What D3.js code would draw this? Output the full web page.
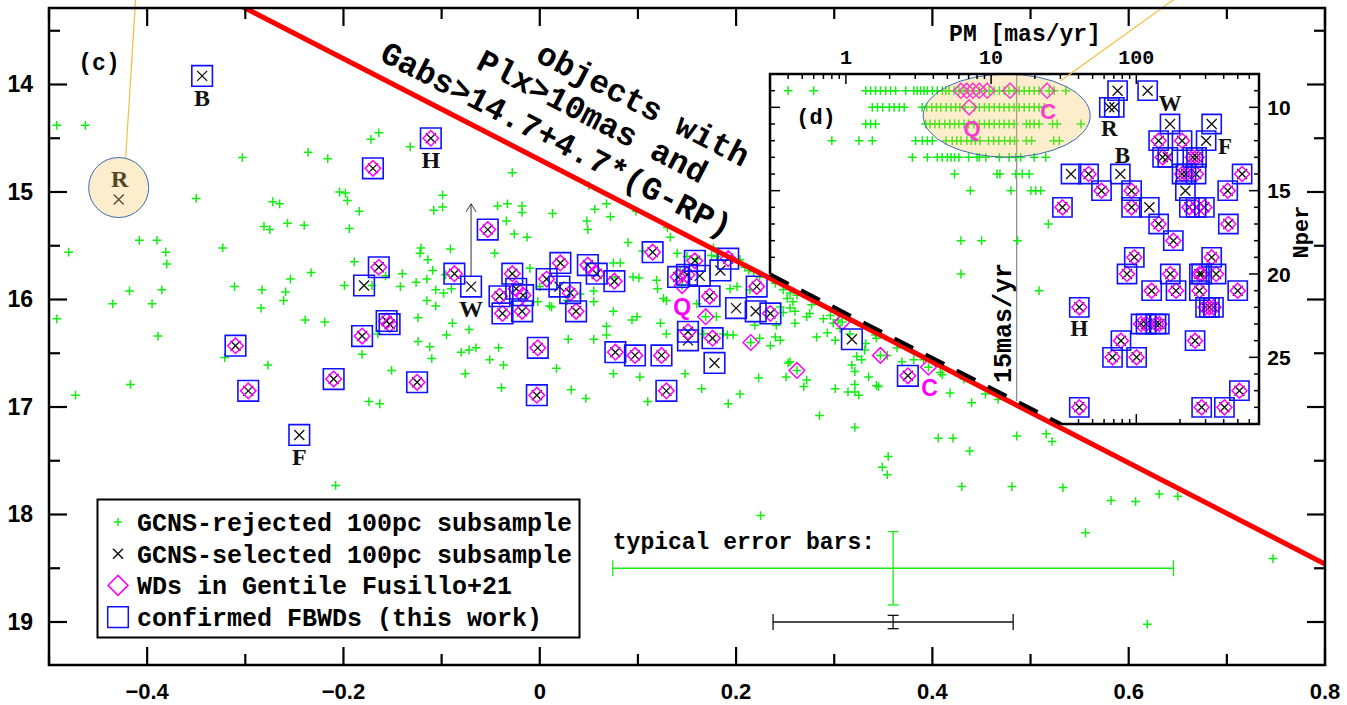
<!DOCTYPE html>
<html>
<head>
<meta charset="utf-8">
<script src="https://cdn.jsdelivr.net/npm/d3@7"></script>
<style>
html, body { margin: 0; padding: 0; background: #fff; }
svg { display: block; }
</style>
</head>
<body>
<svg id="chart" width="1347" height="705"></svg>
<script>
// ---- panel (c): G-RP vs Gabs ----
// GCNS-rejected 100pc subsample (green +)
var rejectedMain = [
  [-0.492,14.38],[-0.463,14.38],[-0.303,14.68],[-0.350,15.06],[-0.236,14.63],[-0.216,14.69],[-0.172,14.51],
  [-0.164,14.45],[-0.132,14.58],[-0.272,15.09],[-0.265,15.11],[-0.257,15.29],[-0.281,15.32],[-0.275,15.35],
  [-0.240,15.31],[-0.204,15.00],[-0.198,15.01],[-0.196,15.08],[-0.184,15.18],[-0.194,15.34],[-0.099,15.03],
  [-0.099,15.14],[-0.108,15.17],[-0.480,15.56],[-0.408,15.45],[-0.390,15.45],[-0.381,15.56],[-0.380,15.67],
  [-0.323,15.52],[-0.418,15.92],[-0.385,15.91],[-0.435,16.04],[-0.395,16.04],[-0.492,16.18],[-0.389,16.34],
  [-0.311,15.88],[-0.283,15.91],[-0.284,16.08],[-0.259,15.93],[-0.261,16.01],[-0.254,15.81],[-0.233,15.75],
  [-0.239,16.19],[-0.219,16.21],[-0.189,15.65],[-0.199,15.87],[-0.171,15.87],[-0.157,15.78],[-0.140,15.76],
  [-0.142,15.88],[-0.126,15.84],[-0.115,15.81],[-0.106,15.91],[-0.098,15.94],[-0.121,15.52],[-0.122,15.57],
  [-0.114,15.63],[-0.124,16.17],[-0.115,16.01],[-0.106,16.06],[-0.124,16.39],[-0.112,16.44],[-0.165,16.32],
  [-0.095,16.33],[-0.473,16.89],[-0.417,16.79],[-0.321,16.54],[-0.277,16.61],[-0.181,16.51],[-0.151,16.66],
  [-0.174,16.95],[-0.163,16.97],[-0.110,16.55],[-0.208,17.73],[-0.091,15.53],
  [-0.028,14.82],[-0.043,15.13],[-0.033,15.11],[-0.018,15.13],[-0.018,15.19],[-0.034,15.27],[0.013,15.20],
  [-0.026,15.39],[-0.013,15.42],[0.050,14.94],[0.056,15.16],[0.068,15.11],[0.048,15.27],[0.049,15.35],
  [0.072,15.23],[0.098,15.18],[0.090,15.47],[0.105,15.55],[0.130,15.33],[0.133,15.42],[-0.046,15.57],
  [-0.090,15.90],[-0.089,16.22],[-0.072,16.28],[-0.080,16.49],[-0.072,16.47],[-0.065,16.45],[-0.042,16.45],
  [-0.051,16.56],[-0.037,16.61],[-0.076,16.69],[-0.039,16.82],[0.017,16.64],[0.032,16.84],[0.047,16.92],
  [-0.010,15.71],[-0.002,16.02],[0.010,16.06],[0.029,16.37],[0.055,16.37],[0.055,16.02],[0.075,16.11],
  [0.094,16.19],[0.075,15.66],[0.082,15.66],[0.095,15.79],[0.101,15.80],[0.119,15.82],[0.126,15.99],
  [0.129,16.01],[0.123,16.22],[0.129,16.32],[0.075,16.69],[0.102,16.72],[0.110,16.95],[0.148,16.69],
  [0.165,16.83],[0.192,16.97],[0.204,16.88],[0.223,16.73],[0.245,16.38],[0.253,16.59],[0.251,16.72],
  [0.197,16.33],[0.143,15.73],[0.140,15.57],[0.177,15.52],[0.175,15.59],[0.150,15.60],[0.160,15.62],
  [0.180,15.60],[0.204,15.63],[0.209,15.70],[0.213,15.73],[0.218,15.74],[-0.109,15.73],[-0.096,15.77],
  [0.000,15.88],[0.012,16.07],[0.028,16.01],[0.041,15.95],[0.055,15.92],[0.077,15.79],[0.120,15.90],
  [0.099,16.16],[0.068,16.25],[0.068,16.33],[0.187,16.32],[0.191,16.33],[0.167,16.32],[0.160,16.04],
  [0.180,16.16],[0.194,15.90],[0.201,15.88],[0.214,15.91],[0.240,16.35],[0.241,16.24],[0.224,16.36],
  [0.235,16.43],
  [0.224,15.79],[0.240,15.85],[0.248,15.91],[0.255,15.94],[0.262,15.96],[0.252,15.99],[0.258,16.02],
  [0.245,16.07],[0.255,16.08],[0.260,16.11],[0.277,16.05],[0.275,16.13],[0.272,16.16],[0.289,16.18],
  [0.296,16.15],[0.299,16.22],[0.304,16.19],[0.306,16.27],[0.260,16.22],[0.248,16.12],[0.219,16.24],
  [0.282,16.35],[0.293,16.31],[0.316,16.32],[0.332,16.41],[0.331,16.47],[0.323,16.53],[0.328,16.56],
  [0.342,16.33],[0.343,16.36],[0.354,16.52],[0.364,16.45],[0.369,16.58],[0.381,16.56],[0.391,16.56],
  [0.408,16.68],[0.410,16.70],[0.432,16.74],[0.418,16.87],[0.440,16.96],[0.454,16.88],[0.467,16.93],
  [0.269,16.81],[0.272,16.75],[0.301,16.83],[0.314,16.86],[0.321,16.86],[0.325,16.89],[0.321,16.67],
  [0.321,16.79],[0.335,16.72],[0.343,16.80],[0.285,17.08],[0.321,17.19],[0.406,17.29],[0.421,17.29],
  [0.438,17.41],[0.486,17.27],[0.516,17.25],[0.522,17.32],[0.355,17.46],[0.349,17.56],[0.354,17.63],
  [0.430,17.74],[0.481,17.74],[0.533,17.75],[0.225,18.01],[0.556,18.17],[0.582,17.87],[0.607,17.88],
  [0.631,17.81],[0.650,17.83],[0.747,18.41],[0.619,19.02],[0.345,16.81],[0.318,16.61],[0.301,16.38],
  [0.255,16.58]
];

// confirmed FBWDs in panel (c): [G-RP, Gabs, in Gentile Fusillo+21 (1/0)]
var fbwdMain = [
  [-0.344,13.92,0],[-0.111,14.50,1],[-0.170,14.78,1],[-0.164,15.70,1],[-0.179,15.87,0],[-0.156,16.20,1],
  [-0.153,16.23,1],[-0.181,16.34,1],[-0.310,16.43,1],[-0.297,16.85,1],[-0.245,17.26,0],[-0.210,16.74,1],
  [-0.125,16.77,1],[-0.087,15.76,1],[-0.070,15.88,0],[-0.053,15.35,1],[-0.028,15.76,1],[-0.041,15.97,1],
  [-0.024,15.90,1],[-0.017,15.96,1],[-0.038,16.13,1],[-0.018,16.11,1],[-0.002,16.45,1],[-0.003,16.89,1],
  [0.021,15.66,1],[0.007,15.81,1],[0.020,15.88,0],[0.031,15.94,1],[0.037,16.11,1],[0.049,15.68,1],
  [0.058,15.76,1],[0.076,15.83,1],[0.115,15.56,1],[0.077,16.49,1],[0.097,16.52,1],[0.124,16.52,1],
  [0.129,16.85,1],[0.141,15.79,1],[0.158,15.64,1],[0.150,15.77,1],[0.163,15.78,0],[0.173,15.97,1],
  [0.184,15.73,0],[0.192,15.62,1],[0.151,16.30,1],[0.151,16.38,0],[0.176,16.36,1],[0.178,16.59,0],
  [0.200,16.08,0],[0.220,16.11,0],[0.235,16.13,1],[0.221,15.88,1],[0.318,16.37,0],[0.375,16.71,1]
];
// GCNS-selected, not confirmed (R)
var selectedOnlyMain = [[-0.429,15.07]];
// WDs in GF21 that were GCNS-rejected
var wdOnlyMain = [[0.145,15.87],[0.169,16.16],[0.215,16.40],[0.262,16.66],[0.308,16.21],[0.347,16.52],[0.396,16.63]];

// named objects: [name, G-RP, Gabs, label dx, label dy]
var mainLabels = [
  ["B",-0.344,13.92,0,22],["H",-0.111,14.50,0,22],["F",-0.245,17.26,0,22],["W",-0.070,15.88,0,22],
  ["R",-0.429,15.07,1,-21]
];
var mainMagLabels = [["Q",0.145,15.87,0,21],["C",0.396,16.63,1,21]];

// typical error bars: [G-RP, Gabs, err G-RP, err Gabs]
var errGreen = [0.360, 18.50, 0.2856, 0.341];
var errBlack = [0.360, 19.00, 0.1223, 0.062];

// ---- panel (d): PM vs Nper ----
var rejectedInset = [
  [9,[0.40,0.60,1.37,1.48,1.60,1.73,1.88,2.03,2.20,2.58,2.94,3.10,3.27,3.45,3.64,3.94,4.26,4.61,4.87,5.13,5.56,6.0,6.5,7.0,7.6,8.3,9.0,9.7,10.5,11.4,12.3,13.3,14.4,15.6,16.9,18.3,19.8,21.4,25.1,27.2,32.7]],
  [10,[1.52,1.65,1.79,1.99,2.15,2.33,2.52,3.35,3.6,3.9,4.2,4.5,4.9,5.3,5.7,6.1,6.6,7.7,8.3,9.0,9.7,10.5,11.4,12.3,13.3,14.4,15.6,16.9,18.3,19.8,21.4,23.2]],
  [11,[1.37,1.48,1.60,3.54,3.8,4.1,4.4,4.8,5.2,5.6,6.0,6.5,7.0,7.6,8.3,9.0,9.7,10.5,11.4,12.3,13.3,14.4,17.5,18.5,19.8,21.4,26.5,28.5,41.6]],
  [12,[0.80,1.23,1.52,3.02,3.36,3.64,3.94,4.9,5.4,5.8,6.2,6.8,7.3,7.8,8.4,9.6,10.4,11.3,12.4,13.5,14.5,17.5,19.0,27.0,29.5]],
  [13,[2.87,3.64,4.26,4.6,5.0,5.3,5.6,6.0,7.0,8.0,8.3,9.2,11.4,13.3,14.8,16.0,19.8,23.8]],
  [14,[5.6,11.0,11.5,14.8,16.4,18.3]],
  [15,[7.2,13.7,18.8,20.3,22.0]],
  [17,[24.8]],
  [18,[6.2,8.6,15.2]],
  [20,[6.2]],
  [21,[21.4]]
];
// confirmed FBWDs: [PM, Nper, in GF21 (1/0)]
var fbwdInset = [
  [74.3,9,0],[119.7,9,0],[65.2,10,0],[70.5,10,0],[170.7,11,0],[330.5,11,0],[142.5,12,1],[206.6,12,1],
  [302.6,12,0],[151.8,13,1],[165,13,0],[245,13,1],[260,13,1],[35.5,14,0],[46.9,14,1],[77.6,14,0],
  [206.6,14,1],[220.2,14,1],[258.1,14,1],[535.5,14,1],[57.6,15,1],[92.8,15,1],[217.8,15,0],[426.3,15,1],
  [31.0,16,1],[92.8,16,1],[122.9,16,0],[232.1,16,1],[258.1,16,1],[294.4,16,1],[142.5,17,1],[430.7,17,1],
  [179.9,18,1],[96.9,19,1],[330.5,19,1],[86.3,20,1],[171.5,20,1],[271.9,20,1],[282,20,1],[354.5,20,1],
  [127.6,21,1],[187.8,21,1],[271.9,21,1],[499.7,21,1],[40.5,22,1],[300,22,1],[318.7,22,1],[340,22,1],
  [107.8,23,1],[116.7,23,1],[136.7,23,1],[144.1,23,1],[78.4,24,1],[254,24,1],[68.6,25,1],[100.5,25,1],
  [513.2,27,1],[40.5,28,1],[282,28,1],[404.6,28,1]
];
var wdOnlyInset = [[6.2,9],[6.8,9],[7.5,9],[8.3,9],[9.4,9],[13.5,9],[24.3,9],[7.05,10]];
var insetLabels = [
  ["R",65.2,10,0,21],["W",170.7,11,0,-21],["F",302.6,12,19,6],["B",77.6,14,2,-19],["H",40.5,22,0,21]
];
var insetMagLabels = [["Q",7.05,10,3,21],["C",24.3,9,1,21]];

var legendItems = ["GCNS-rejected 100pc subsample", "GCNS-selected 100pc subsample",
                   "WDs in Gentile Fusillo+21", "confirmed FBWDs (this work)"];

// ---------------------------------------------------------------
var MONO = "'Liberation Mono','DejaVu Sans Mono',monospace";
var SANS = "'Liberation Sans',Arial,sans-serif";
var SERIF = "'Liberation Serif','Times New Roman',serif";
var GREEN = "#11ee11", MAG = "#ff00ff", BLUE = "#1010ff", RED = "#ff0000";

var svg = d3.select("#chart");
svg.append("rect").attr("width", 1347).attr("height", 705).attr("fill", "#fff");

var x = d3.scaleLinear().domain([-0.5, 0.8]).range([49, 1325]);
var y = d3.scaleLinear().domain([13.2884, 19.4]).range([8, 665]);
var px = d3.scaleLog().domain([0.3, 700]).range([770, 1259]);
var py = d3.scaleLinear().domain([8, 29]).range([74, 424]);

function cut(c) { return 14.7 + 4.7 * c; }

function mk(type, r) {
  if (type == "plus") return "M" + (-r) + ",0H" + r + "M0," + (-r) + "V" + r;
  if (type == "cross") return "M" + (-r) + "," + (-r) + "L" + r + "," + r + "M" + (-r) + "," + r + "L" + r + "," + (-r);
  if (type == "diamond") return "M0," + (-r) + "L" + r + ",0L0," + r + "L" + (-r) + ",0Z";
  return "M" + (-r) + "," + (-r) + "H" + r + "V" + r + "H" + (-r) + "Z";
}

function marks(g, data, fx, fy, type, r, color, sw) {
  g.append("g").selectAll("path").data(data).join("path")
    .attr("d", mk(type, r))
    .attr("transform", function(d) { return "translate(" + fx(d) + "," + fy(d) + ")"; })
    .attr("fill", "none").attr("stroke", color).attr("stroke-width", sw);
}

var defs = svg.append("defs");
defs.append("clipPath").attr("id", "clipMain").append("rect")
  .attr("x", 49).attr("y", 8).attr("width", 1276).attr("height", 657);

// ---- main panel marks ----
var main = svg.append("g").attr("clip-path", "url(#clipMain)");
var mx = function(d) { return x(d[0]); }, my = function(d) { return y(d[1]); };

marks(main, rejectedMain, mx, my, "plus", 4.4, GREEN, 1.5);
marks(main, wdOnlyMain, mx, my, "plus", 4.4, GREEN, 1.5);
marks(main, fbwdMain.concat(selectedOnlyMain), mx, my, "cross", 5, "#111", 1.3);
marks(main, fbwdMain.filter(function(d) { return d[2]; }).concat(wdOnlyMain), mx, my, "diamond", 7.8, MAG, 1.5);
marks(main, fbwdMain, mx, my, "square", 10.3, BLUE, 1.6);

main.append("path")
  .attr("d", d3.line()([[x(-0.5), y(cut(-0.5))], [x(0.8), y(cut(0.8))]]))
  .attr("stroke", RED).attr("stroke-width", 5).attr("fill", "none");

// ---- inset panel (d) ----
var diag0 = x.invert(770);
var yd0 = y(cut(diag0)) - 4;
var cb = (y.invert(428) - 14.7) / 4.7;
var xb = x(cb);
var poly = [[770, 74], [1259, 74], [1259, 424], [xb, 424], [770, yd0]];
function diagY(pxv) { return y(cut(x.invert(pxv))) - 4; }

defs.append("clipPath").attr("id", "clipInset").append("polygon")
  .attr("points", poly.map(function(p) { return p.join(","); }).join(" "));

svg.append("polygon").attr("points", poly.map(function(p) { return p.join(","); }).join(" "))
  .attr("fill", "#fff");

var inset = svg.append("g").attr("clip-path", "url(#clipInset)");
var ix = function(d) { return px(d[0]); }, iy = function(d) { return py(d[1]); };
var rejFlat = [];
rejectedInset.forEach(function(row) { row[1].forEach(function(v) { rejFlat.push([v, row[0]]); }); });

// 15 mas/yr boundary
inset.append("line").attr("x1", px(15)).attr("x2", px(15)).attr("y1", 74).attr("y2", diagY(px(15)))
  .attr("stroke", "#888").attr("stroke-width", 1.2);

marks(inset, rejFlat, ix, iy, "plus", 4.4, GREEN, 1.5);
marks(inset, fbwdInset, ix, iy, "cross", 5, "#111", 1.3);
marks(inset, fbwdInset.filter(function(d) { return d[2]; }).concat(wdOnlyInset), ix, iy, "diamond", 7.5, MAG, 1.5);
marks(inset, fbwdInset, ix, iy, "square", 9.6, BLUE, 1.6);

insetMagLabels.forEach(function(l) {
  inset.append("text").attr("x", px(l[1]) + l[3]).attr("y", py(l[2]) + l[4])
    .attr("text-anchor", "middle").attr("dominant-baseline", "central")
    .attr("font-family", SANS).attr("font-weight", "bold").attr("font-size", 22)
    .attr("fill", MAG).text(l[0]);
});

// highlight ellipse
inset.append("ellipse").attr("cx", px(12.8)).attr("cy", py(10.5)).attr("rx", 83.5).attr("ry", 41.5)
  .attr("fill", "#f6c356").attr("fill-opacity", 0.3).attr("stroke", "#3b6cae").attr("stroke-width", 1);

insetLabels.forEach(function(l) {
  inset.append("text").attr("x", px(l[1]) + l[3]).attr("y", py(l[2]) + l[4])
    .attr("text-anchor", "middle").attr("dominant-baseline", "central")
    .attr("font-family", SERIF).attr("font-weight", "bold").attr("font-size", 23)
    .attr("fill", "#111").text(l[0]);
});

// inset frame
var fr = svg.append("g").attr("stroke", "#000").attr("fill", "none");
fr.append("path").attr("d", "M770," + yd0 + "V74H1259V424H" + xb).attr("stroke-width", 2.5);
fr.append("line").attr("x1", 770).attr("y1", yd0).attr("x2", xb).attr("y2", 424)
  .attr("stroke-width", 3.8).attr("stroke-dasharray", "21,14");

var pmTicks = [];
[0.1, 1, 10, 100].forEach(function(dec) {
  d3.range(1, 10).forEach(function(k) {
    var v = k * dec;
    if (v >= 0.3 && v <= 700) pmTicks.push([v, k == 1]);
  });
});
pmTicks.forEach(function(t) {
  var len = t[1] ? 10 : 5, xv = px(t[0]);
  fr.append("line").attr("x1", xv).attr("x2", xv).attr("y1", 74).attr("y2", 74 + len).attr("stroke-width", 1.5);
  if (xv > xb + 2) fr.append("line").attr("x1", xv).attr("x2", xv).attr("y1", 424).attr("y2", 424 - len).attr("stroke-width", 1.5);
});
d3.range(9, 29).forEach(function(n) {
  var len = n % 5 == 0 ? 10 : 5, yv = py(n);
  fr.append("line").attr("x1", 1259).attr("x2", 1259 - len).attr("y1", yv).attr("y2", yv).attr("stroke-width", 1.5);
  if (yv < yd0 - 2) fr.append("line").attr("x1", 770).attr("x2", 770 + len).attr("y1", yv).attr("y2", yv).attr("stroke-width", 1.5);
});

[1, 10, 100].forEach(function(v) {
  svg.append("text").attr("x", px(v)).attr("y", 58).attr("text-anchor", "middle").attr("dominant-baseline", "central")
    .attr("font-family", MONO).attr("font-weight", "bold").attr("font-size", 20).text(v);
});
[10, 15, 20, 25].forEach(function(n) {
  svg.append("text").attr("x", 1279).attr("y", py(n)).attr("text-anchor", "middle").attr("dominant-baseline", "central")
    .attr("font-family", SANS).attr("font-weight", "bold").attr("font-size", 21).text(n);
});
svg.append("text").attr("x", 1025).attr("y", 35).attr("text-anchor", "middle").attr("dominant-baseline", "central")
  .attr("font-family", MONO).attr("font-weight", "bold").attr("font-size", 23).text("PM [mas/yr]");
svg.append("text").attr("transform", "translate(1302,232) rotate(-90)").attr("text-anchor", "middle")
  .attr("dominant-baseline", "central").attr("font-family", MONO).attr("font-weight", "bold")
  .attr("font-size", 22).text("Nper");
svg.append("text").attr("transform", "translate(" + (px(15) - 12) + ",323) rotate(-90)").attr("text-anchor", "middle")
  .attr("dominant-baseline", "central").attr("font-family", MONO).attr("font-weight", "bold")
  .attr("font-size", 25).text("15mas/yr");
svg.append("text").attr("x", 816).attr("y", 118).attr("text-anchor", "middle").attr("dominant-baseline", "central")
  .attr("font-family", MONO).attr("font-weight", "bold").attr("font-size", 22).text("(d)");

// ---- main panel annotations ----
var rx = x(selectedOnlyMain[0][0]), ry = y(selectedOnlyMain[0][1]) - 12;
svg.append("line").attr("x1", rx + 7).attr("y1", ry - 29.5).attr("x2", rx + 17).attr("y2", -2)
  .attr("stroke", "#f5c040").attr("stroke-width", 1.2);
svg.append("line").attr("x1", px(12.8) + 54).attr("y1", py(10.5) - 35).attr("x2", 1176).attr("y2", -2)
  .attr("stroke", "#f5c040").attr("stroke-width", 1.2);

mainLabels.forEach(function(l) {
  svg.append("text").attr("x", x(l[1]) + l[3]).attr("y", y(l[2]) + l[4])
    .attr("text-anchor", "middle").attr("dominant-baseline", "central")
    .attr("font-family", SERIF).attr("font-weight", "bold").attr("font-size", 24)
    .attr("fill", "#111").text(l[0]);
});
mainMagLabels.forEach(function(l) {
  svg.append("text").attr("x", x(l[1]) + l[3]).attr("y", y(l[2]) + l[4])
    .attr("text-anchor", "middle").attr("dominant-baseline", "central")
    .attr("font-family", SANS).attr("font-weight", "bold").attr("font-size", 23)
    .attr("fill", MAG).text(l[0]);
});

svg.append("circle").attr("cx", rx).attr("cy", ry).attr("r", 30)
  .attr("fill", "#f6c356").attr("fill-opacity", 0.3).attr("stroke", "#3b6cae").attr("stroke-width", 1);

// W arrow
var wx = x(-0.070), wTop = y(15.11), wBot = y(15.88) - 10;
svg.append("path").attr("d", "M" + wx + "," + wBot + "V" + wTop + "M" + (wx - 5) + "," + (wTop + 8) + "L" + wx + "," + wTop + "L" + (wx + 5) + "," + (wTop + 8))
  .attr("stroke", "#333").attr("stroke-width", 1).attr("fill", "none");

// text along the selection line
var ang = Math.atan2(y(cut(1)) - y(cut(0)), x(1) - x(0)) * 180 / Math.PI;
var tl = svg.append("g").attr("transform", "translate(" + x(0.18) + "," + y(cut(0.18)) + ") rotate(" + ang + ")");
[["objects with", -15, -86], ["Plx>10mas and", -45, -52], ["Gabs>14.7+4.7*(G-RP)", 2, -15]].forEach(function(t) {
  tl.append("text").attr("x", t[1]).attr("y", t[2]).attr("text-anchor", "end")
    .attr("font-family", MONO).attr("font-weight", "bold").attr("font-size", 32.5).text(t[0]);
});

// error bars
function errBar(e, color, capX, capY) {
  var g = svg.append("g").attr("stroke", color).attr("stroke-width", 1.3);
  var cx = x(e[0]), cy = y(e[1]), x0 = x(e[0] - e[2]), x1 = x(e[0] + e[2]), y0 = y(e[1] - e[3]), y1 = y(e[1] + e[3]);
  g.append("line").attr("x1", x0).attr("x2", x1).attr("y1", cy).attr("y2", cy);
  g.append("line").attr("x1", cx).attr("x2", cx).attr("y1", y0).attr("y2", y1);
  [x0, x1].forEach(function(v) { g.append("line").attr("x1", v).attr("x2", v).attr("y1", cy - capX).attr("y2", cy + capX); });
  [y0, y1].forEach(function(v) { g.append("line").attr("x1", cx - capY).attr("x2", cx + capY).attr("y1", v).attr("y2", v); });
}
errBar(errGreen, GREEN, 8, 5.5);
errBar(errBlack, "#111", 8, 5.5);
svg.append("text").attr("x", x(errGreen[0] - errGreen[2])).attr("y", y(errGreen[1]) - 19)
  .attr("font-family", MONO).attr("font-weight", "bold").attr("font-size", 23).text("typical error bars:");

svg.append("text").attr("x", 99).attr("y", 64).attr("text-anchor", "middle").attr("dominant-baseline", "central")
  .attr("font-family", MONO).attr("font-weight", "bold").attr("font-size", 23).text("(c)");

// legend
var lg = svg.append("g");
lg.append("rect").attr("x", 97.5).attr("y", 499.5).attr("width", 482).attr("height", 138)
  .attr("fill", "#fff").attr("stroke", "#000").attr("stroke-width", 2);
var legSym = [["plus", 4, GREEN], ["cross", 5, "#111"], ["diamond", 10, MAG], ["square", 10.3, BLUE]];
legendItems.forEach(function(t, i) {
  var cy = 522 + i * 31.7;
  lg.append("path").attr("d", mk(legSym[i][0], legSym[i][1])).attr("transform", "translate(118," + cy + ")")
    .attr("fill", "none").attr("stroke", legSym[i][2]).attr("stroke-width", 1.5);
  lg.append("text").attr("x", 137).attr("y", cy + 9).attr("font-family", MONO).attr("font-weight", "bold")
    .attr("font-size", 25).text(t);
});

// ---- main axes ----
var ax = svg.append("g").attr("stroke", "#000").attr("fill", "none");
ax.append("rect").attr("x", 49).attr("y", 8).attr("width", 1276).attr("height", 657).attr("stroke-width", 2.5);
d3.range(-5, 9).forEach(function(i) {
  var v = i / 10, len = Math.abs(i) % 2 == 0 ? 18 : 11, xv = x(v);
  ax.append("line").attr("x1", xv).attr("x2", xv).attr("y1", 665).attr("y2", 665 - len).attr("stroke-width", 2.2);
  ax.append("line").attr("x1", xv).attr("x2", xv).attr("y1", 8).attr("y2", 8 + len).attr("stroke-width", 2.2);
  if (Math.abs(i) % 2 == 0) {
    svg.append("text").attr("x", xv).attr("y", 699).attr("text-anchor", "middle")
      .attr("font-family", SANS).attr("font-weight", "bold").attr("font-size", 22)
      .text(i == 0 ? "0" : d3.format(".1f")(v));
  }
});
d3.range(27, 39).forEach(function(i) {
  var v = i / 2, len = i % 2 == 0 ? 18 : 11, yv = y(v);
  ax.append("line").attr("x1", 49).attr("x2", 49 + len).attr("y1", yv).attr("y2", yv).attr("stroke-width", 2.2);
  ax.append("line").attr("x1", 1325).attr("x2", 1325 - len).attr("y1", yv).attr("y2", yv).attr("stroke-width", 2.2);
  if (i % 2 == 0) {
    svg.append("text").attr("x", 33).attr("y", yv).attr("text-anchor", "end").attr("dominant-baseline", "central")
      .attr("font-family", SANS).attr("font-weight", "bold").attr("font-size", 23).text(v);
  }
});
</script>
</body>
</html>
